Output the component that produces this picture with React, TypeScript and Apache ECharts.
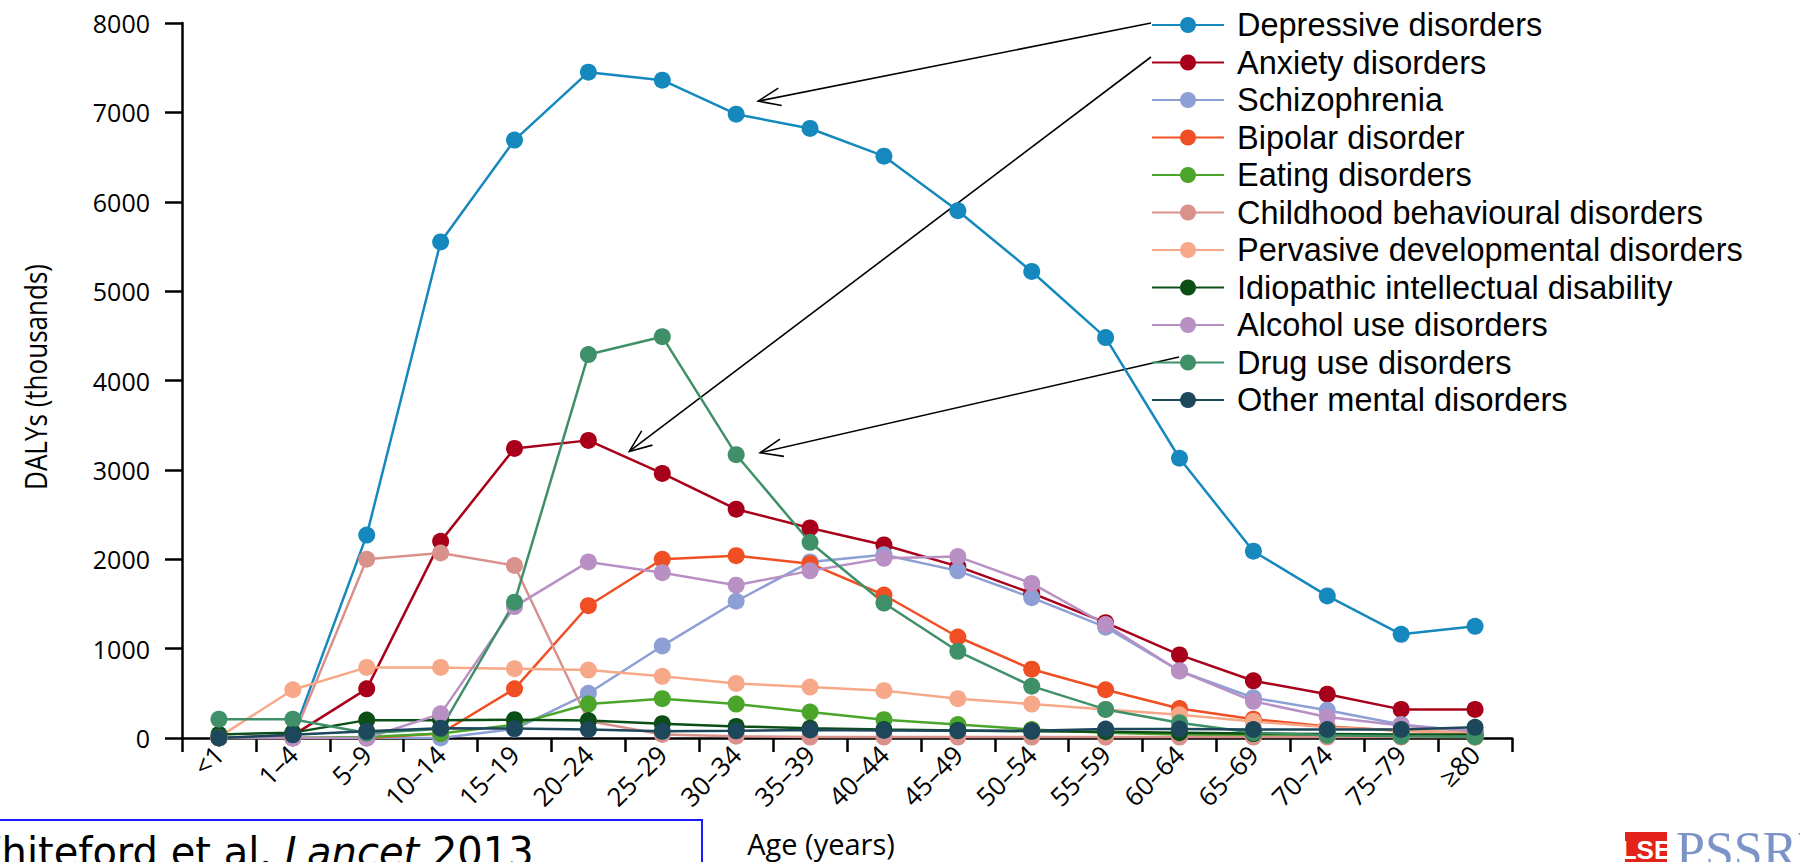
import React, { useEffect, useRef } from "react";
import * as echarts from "echarts";

const ageGroups = ["<1", "1–4", "5–9", "10–14", "15–19", "20–24", "25–29", "30–34", "35–39", "40–44", "45–49", "50–54", "55–59", "60–64", "65–69", "70–74", "75–79", "≥80"];
const yTicks = [0, 1000, 2000, 3000, 4000, 5000, 6000, 7000, 8000];

const depressive = [0, 30, 2270, 5550, 6690, 7450, 7360, 6980, 6820, 6510, 5900, 5220, 4480, 3130, 2090, 1590, 1160, 1250];
const anxiety = [0, 30, 550, 2200, 3240, 3330, 2960, 2560, 2350, 2160, 1920, 1620, 1290, 930, 640, 490, 320, 320];
const schizophrenia = [0, 0, 0, 0, 100, 500, 1030, 1530, 1970, 2050, 1870, 1570, 1240, 750, 450, 310, 150, 70];
const bipolar = [0, 0, 0, 50, 550, 1480, 2000, 2040, 1950, 1600, 1130, 770, 540, 330, 210, 130, 80, 60];
const eating = [0, 0, 10, 50, 150, 380, 440, 380, 290, 205, 150, 95, 60, 40, 30, 20, 15, 10];
const childhood = [0, 0, 2000, 2070, 1930, 190, 40, 20, 10, 10, 10, 10, 10, 10, 10, 10, 10, 10];
const pervasive = [10, 540, 790, 790, 775, 760, 690, 610, 570, 530, 440, 380, 320, 260, 185, 120, 80, 60];
const idiopathic = [40, 60, 200, 200, 205, 195, 160, 130, 110, 95, 85, 75, 70, 60, 50, 45, 40, 40];
const alcohol = [0, 0, 0, 270, 1470, 1970, 1850, 1710, 1870, 2010, 2030, 1730, 1270, 750, 410, 235, 140, 75];
const drug = [210, 210, 55, 100, 1520, 4290, 4490, 3170, 2190, 1510, 970, 580, 320, 170, 60, 30, 20, 15];
const other = [0, 35, 75, 110, 105, 95, 75, 80, 90, 85, 80, 80, 100, 100, 95, 95, 95, 120];

const seriesNames = [
  "Depressive disorders",
  "Anxiety disorders",
  "Schizophrenia",
  "Bipolar disorder",
  "Eating disorders",
  "Childhood behavioural disorders",
  "Pervasive developmental disorders",
  "Idiopathic intellectual disability",
  "Alcohol use disorders",
  "Drug use disorders",
  "Other mental disorders",
];
const seriesData = [depressive, anxiety, schizophrenia, bipolar, eating, childhood, pervasive, idiopathic, alcohol, drug, other];
const seriesColors = ["#1589bd", "#a8001a", "#8d9fd5", "#f04e23", "#4aa52a", "#d9918c", "#f6a888", "#0b4f16", "#b890c4", "#3f9068", "#1d475b"];

const W = 1800;
const H = 862;
const SANS = "'Open Sans', 'Noto Sans', sans-serif";
const LEGEND_FONT = "'Liberation Sans', Arial, sans-serif";

function arrow(x1: number, y1: number, x2: number, y2: number) {
  const ang = Math.atan2(y2 - y1, x2 - x1);
  const len = 24;
  const spread = 0.38;
  const p1 = [x2 - len * Math.cos(ang - spread), y2 - len * Math.sin(ang - spread)];
  const p2 = [x2 - len * Math.cos(ang + spread), y2 - len * Math.sin(ang + spread)];
  return [
    { type: "line", shape: { x1, y1, x2, y2 }, style: { stroke: "#000", lineWidth: 1.6 }, silent: true },
    { type: "polyline", shape: { points: [p1, [x2, y2], p2] }, style: { stroke: "#000", lineWidth: 1.6, fill: null }, silent: true },
  ];
}

export default function App() {
  const ref = useRef<HTMLDivElement>(null);
  useEffect(() => {
    const chart = echarts.init(ref.current as HTMLDivElement, null, { renderer: "svg", width: W, height: H });
    const series = seriesNames.map((name, i) => ({
      name,
      type: "line",
      data: seriesData[i],
      symbol: "circle",
      symbolSize: 17,
      showSymbol: true,
      lineStyle: { width: 2.5, color: seriesColors[i] },
      itemStyle: { color: seriesColors[i] },
      emphasis: { disabled: true },
    }));
    chart.setOption({
      animation: false,
      backgroundColor: "#ffffff",
      grid: { left: 182, right: 288, top: 23, bottom: 124, containLabel: false },
      legend: {
        orient: "vertical",
        left: 1146,
        top: 2,
        itemWidth: 72,
        itemHeight: 20,
        itemGap: 1.5,
        selectedMode: false,
        data: seriesNames,
        textStyle: { fontFamily: LEGEND_FONT, fontSize: 32.5, color: "#000", lineHeight: 36, padding: [0, 0, 0, 8] },
      },
      xAxis: {
        type: "category",
        data: ageGroups,
        boundaryGap: true,
        axisLine: { lineStyle: { color: "#000", width: 2.5 } },
        axisTick: { show: true, interval: 0, length: 14, lineStyle: { color: "#000", width: 2.5 } },
        axisLabel: { interval: 0, rotate: 45, margin: 12, fontFamily: SANS, fontSize: 26, color: "#000" },
        splitLine: { show: false },
      },
      yAxis: {
        type: "value",
        min: yTicks[0],
        max: yTicks[yTicks.length - 1],
        interval: 1000,
        axisLine: { show: true, lineStyle: { color: "#000", width: 2.5 } },
        axisTick: { show: true, length: 17, lineStyle: { color: "#000", width: 2.5 } },
        axisLabel: { margin: 32, fontFamily: SANS, fontSize: 25, color: "#000", formatter: (v: number) => String(v) },
        splitLine: { show: false },
      },
      series,
    });

    const P = (idx: number, val: number) => chart.convertToPixel({ gridIndex: 0 }, [idx, val]) as number[];
    const t1 = P(7, depressive[7]);
    const t2 = P(6, anxiety[6]);
    const t3 = P(7, drug[7]);

    const graphic: any[] = [
      {
        type: "text",
        x: 35,
        y: 377,
        rotation: Math.PI / 2,
        scaleX: 0.84,
        style: {
          text: "DALYs (thousands)",
          fill: "#000",
          fontSize: 31,
          fontFamily: SANS,
          align: "center",
          verticalAlign: "middle",
        },
      },
      {
        type: "text",
        x: 821,
        y: 829,
        style: { text: "Age (years)", fill: "#000", fontSize: 29, fontFamily: SANS, align: "center", verticalAlign: "top" },
      },
      {
        type: "rect",
        shape: { x: -10, y: 820, width: 712, height: 80 },
        style: { fill: "#fff", stroke: "#1a1aff", lineWidth: 2 },
      },
      {
        type: "text",
        x: -38,
        y: 832,
        style: {
          text: "Whiteford et al. {i|Lancet} 2013",
          fill: "#000",
          fontSize: 40,
          fontFamily: "'DejaVu Sans', sans-serif",
          verticalAlign: "top",
          rich: { i: { fontStyle: "italic", fontSize: 40, fontFamily: "'DejaVu Sans', sans-serif", fill: "#000" } },
        },
      },
      { type: "rect", shape: { x: 1625, y: 832, width: 42, height: 40 }, style: { fill: "#e3221b" } },
      {
        type: "text",
        x: 1646,
        y: 837,
        style: { text: "LSE", fill: "#fff", fontSize: 26, fontWeight: "bold", fontFamily: "'Liberation Sans Narrow', 'Liberation Sans', sans-serif", align: "center", verticalAlign: "top" },
      },
      {
        type: "text",
        x: 1676,
        y: 824,
        style: { text: "PSSRU", fill: "#7c93c7", fontSize: 52, fontFamily: "'Liberation Serif', serif", verticalAlign: "top" },
      },
      ...arrow(1151, 23, t1[0] + 22, t1[1] - 13),
      ...arrow(1151, 57, t2[0] - 33, t2[1] - 22),
      ...arrow(1179, 357, t3[0] + 24, t3[1] - 2),
    ];
    chart.setOption({ graphic });
    return () => chart.dispose();
  }, []);
  return <div ref={ref} style={{ position: "fixed", left: 0, top: 0, width: W, height: H, background: "#fff" }} />;
}
